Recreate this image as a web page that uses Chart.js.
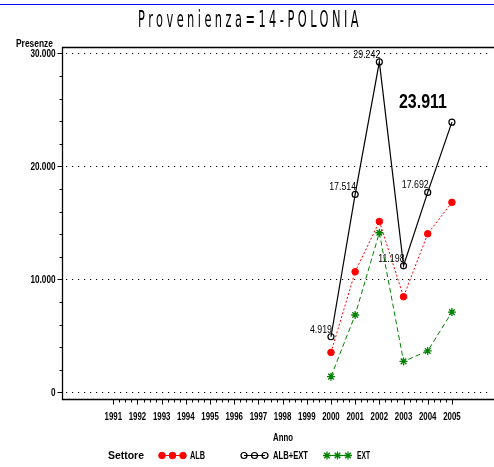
<!DOCTYPE html>
<html>
<head>
<meta charset="utf-8">
<script src="https://cdn.jsdelivr.net/npm/chart.js@4"></script>
<style>
html,body{margin:0;padding:0;background:#fff;}
canvas{display:block;}
</style>
</head>
<body>
<canvas id="c" width="494" height="467"></canvas>
<script>
// ---- data ----
const chartTitle = 'Provenienza=14-POLONIA';
const years = [2000, 2001, 2002, 2003, 2004, 2005];
const alb = [3530, 10670, 15120, 8460, 14030, 16810];
const ext = [1389, 6844, 14122, 2738, 3662, 7101];
const albExt = [4919, 17514, 29242, 11198, 17692, 23911];
const xTickYears = [1991, 1992, 1993, 1994, 1995, 1996, 1997, 1998, 1999, 2000, 2001, 2002, 2003, 2004, 2005];
const yTickValues = [0, 10000, 20000, 30000];
const yTickLabels = ['0', '10.000', '20.000', '30.000'];
const seriesNames = ['ALB', 'ALB+EXT', 'EXT'];

function fmt(v) {
  return String(v).replace(/\B(?=(\d{3})+(?!\d))/g, '.');
}

const FONT = '"Liberation Sans", Arial, sans-serif';
function txt(ctx, s, x, y, o) {
  ctx.save();
  ctx.font = (o.bold ? 'bold ' : '') + o.size + 'px ' + (o.family || FONT);
  if (o.spacing) ctx.letterSpacing = o.spacing + 'px';
  let sx = o.sx || 1;
  if (o.width) sx = o.width / ctx.measureText(s).width;
  ctx.translate(x, y);
  ctx.scale(sx, 1);
  ctx.textAlign = o.align || 'left';
  ctx.textBaseline = o.baseline || 'alphabetic';
  ctx.fillStyle = o.color || '#000';
  ctx.fillText(s, 0, 0);
  ctx.restore();
}
function sxFor(ctx, sample, target, size, bold) {
  ctx.save();
  ctx.font = (bold ? 'bold ' : '') + size + 'px ' + FONT;
  const w = ctx.measureText(sample).width;
  ctx.restore();
  return target / w;
}

const decor = {
  id: 'decor',
  beforeDatasetsDraw(chart) {
    const ctx = chart.ctx;
    const ys = chart.scales.y;
    const a = chart.chartArea;
    ctx.save();
    ctx.strokeStyle = '#000';
    ctx.lineWidth = 1;
    ctx.setLineDash([1.2, 4.8]);
    yTickValues.forEach(v => {
      const py = Math.round(ys.getPixelForValue(v)) + 0.5;
      ctx.beginPath(); ctx.moveTo(a.left + 4, py); ctx.lineTo(a.right - 4, py); ctx.stroke();
    });
    ctx.setLineDash([]);
    ctx.restore();
  },
  afterDraw(chart) {
    const ctx = chart.ctx;
    const xs = chart.scales.x, ys = chart.scales.y;
    const a = chart.chartArea;
    ctx.save();
    // top blue line
    ctx.strokeStyle = '#0000ff';
    ctx.lineWidth = 1;
    ctx.beginPath(); ctx.moveTo(0, 4.5); ctx.lineTo(494, 4.5); ctx.stroke();
    // frame
    ctx.strokeStyle = '#000';
    ctx.lineWidth = 1.3;
    const L = Math.round(a.left) + 0.5, B = Math.round(a.bottom) + 0.5, T = Math.round(a.top) + 0.5;
    ctx.beginPath();
    ctx.moveTo(a.right, T); ctx.lineTo(L, T); ctx.lineTo(L, B); ctx.lineTo(a.right, B);
    ctx.stroke();
    ctx.lineWidth = 1;
    // y ticks
    for (let i = 0; i < yTickValues.length; i++) {
      const v = yTickValues[i];
      const py = Math.round(ys.getPixelForValue(v)) + 0.5;
      ctx.beginPath(); ctx.moveTo(L, py); ctx.lineTo(L - 5, py); ctx.stroke();
      if (i < yTickValues.length - 1) {
        const step = (yTickValues[i + 1] - v) / 5;
        for (let k = 1; k < 5; k++) {
          const pm = Math.round(ys.getPixelForValue(v + k * step)) + 0.5;
          ctx.beginPath(); ctx.moveTo(L, pm); ctx.lineTo(L - 3, pm); ctx.stroke();
        }
      }
    }
    // x ticks
    for (let i = 0; i < xTickYears.length; i++) {
      const v = xTickYears[i];
      const px = Math.round(xs.getPixelForValue(v)) + 0.5;
      ctx.beginPath(); ctx.moveTo(px, B); ctx.lineTo(px, B + 5); ctx.stroke();
      if (i < xTickYears.length - 1) {
        for (let k = 1; k < 4; k++) {
          const pm = Math.round(xs.getPixelForValue(v + k * 0.25)) + 0.5;
          ctx.beginPath(); ctx.moveTo(pm, B); ctx.lineTo(pm, B + 3); ctx.stroke();
        }
      }
    }
    // tick labels
    const ysx = sxFor(ctx, '30.000', 25, 11.5, true);
    yTickValues.forEach((v, i) => {
      txt(ctx, yTickLabels[i], L - 7, ys.getPixelForValue(v) + 4, {size: 11.5, bold: true, sx: ysx, align: 'right'});
    });
    const xsx = sxFor(ctx, '1991', 17.5, 11.5, true);
    xTickYears.forEach(v => {
      txt(ctx, String(v), xs.getPixelForValue(v), B + 20, {size: 11.5, bold: true, sx: xsx, align: 'center'});
    });
    // axis titles
    txt(ctx, 'Presenze', 16, 47, {size: 10, bold: true, width: 37});
    txt(ctx, 'Anno', (a.left + a.right) / 2 + 5, 441, {size: 10.5, bold: true, width: 20, align: 'center'});
    // title
    txt(ctx, chartTitle, 250, 27, {size: 23, width: 224, spacing: 7, align: 'center', family: '"DejaVu Sans", sans-serif'});

    // data labels for ALB+EXT
    const meta = chart.getDatasetMeta(1);
    const lsx = sxFor(ctx, '17.514', 27, 10, false);
    meta.data.forEach((pt, i) => {
      if (i === meta.data.length - 1) {
        txt(ctx, fmt(albExt[i]), pt.x - 5, pt.y - 14, {size: 21, bold: true, width: 48, align: 'right'});
      } else {
        txt(ctx, fmt(albExt[i]), pt.x + 1, pt.y - 4, {size: 10, sx: lsx, align: 'right'});
      }
    });

    // legend
    const ly = 455;
    txt(ctx, 'Settore', 108, ly + 4, {size: 10.5, bold: true, width: 36});
    const legendItems = [
      {x0: 162, lbl: 190, w: 15, ds: 0},
      {x0: 244, lbl: 273, w: 35, ds: 1},
      {x0: 327, lbl: 357, w: 13, ds: 2}
    ];
    legendItems.forEach(it => {
      const ds = chart.data.datasets[it.ds];
      ctx.save();
      ctx.strokeStyle = ds.borderColor;
      ctx.lineWidth = 1;
      ctx.setLineDash([]);
      ctx.beginPath(); ctx.moveTo(it.x0, ly + 0.5); ctx.lineTo(it.x0 + 21, ly + 0.5); ctx.stroke();
      for (let k = 0; k < 3; k++) {
        ctx.fillStyle = ds.pointBackgroundColor;
        ctx.strokeStyle = ds.pointBorderColor;
        ctx.lineWidth = ds.pointBorderWidth;
        Chart.helpers.drawPoint(ctx, {
          pointStyle: ds.pointStyle, radius: ds.pointRadius, borderWidth: ds.pointBorderWidth, rotation: 0
        }, it.x0 + k * 10.5, ly + 0.5);
      }
      ctx.restore();
      txt(ctx, seriesNames[it.ds], it.lbl, ly + 4, {size: 10.5, bold: true, width: it.w});
    });
    ctx.restore();
  }
};

function pts(vals) { return years.map((y, i) => ({x: y, y: vals[i]})); }

const chart = new Chart(document.getElementById('c'), {
  type: 'line',
  data: {
    datasets: [
      {
        label: seriesNames[0], data: pts(alb),
        borderColor: '#ff0000', borderWidth: 1, borderDash: [2, 2],
        pointStyle: 'circle', pointRadius: 3.3, pointBorderWidth: 1,
        pointBackgroundColor: '#ff0000', pointBorderColor: '#ff0000', tension: 0
      },
      {
        label: seriesNames[1], data: pts(albExt),
        borderColor: '#000000', borderWidth: 1.2,
        pointStyle: 'circle', pointRadius: 3, pointBorderWidth: 1.2,
        pointBackgroundColor: 'rgba(255,255,255,0)', pointBorderColor: '#000000', tension: 0
      },
      {
        label: seriesNames[2], data: pts(ext),
        borderColor: '#008000', borderWidth: 1, borderDash: [5, 3],
        pointStyle: 'star', pointRadius: 4, pointBorderWidth: 1.3,
        pointBackgroundColor: '#008000', pointBorderColor: '#008000', tension: 0
      }
    ]
  },
  options: {
    responsive: false,
    animation: false,
    events: [],
    layout: {padding: {left: 0, top: 47, right: 0, bottom: 0}, autoPadding: false},
    plugins: {legend: {display: false}, title: {display: false}, tooltip: {enabled: false}},
    scales: {
      x: {
        type: 'linear', min: 1988.88, max: 2006.74,
        grid: {display: false, drawTicks: false}, border: {display: false},
        ticks: {display: false},
        afterBuildTicks: s => { s.ticks = xTickYears.map(v => ({value: v})); },
        afterFit: s => { s.height = 68; }
      },
      y: {
        type: 'linear', min: -590, max: 30560,
        grid: {display: false, drawTicks: false}, border: {display: false},
        ticks: {display: false},
        afterBuildTicks: s => { s.ticks = yTickValues.map(v => ({value: v})); },
        afterFit: s => { s.width = 62; }
      }
    }
  },
  plugins: [decor]
});
</script>
</body>
</html>
